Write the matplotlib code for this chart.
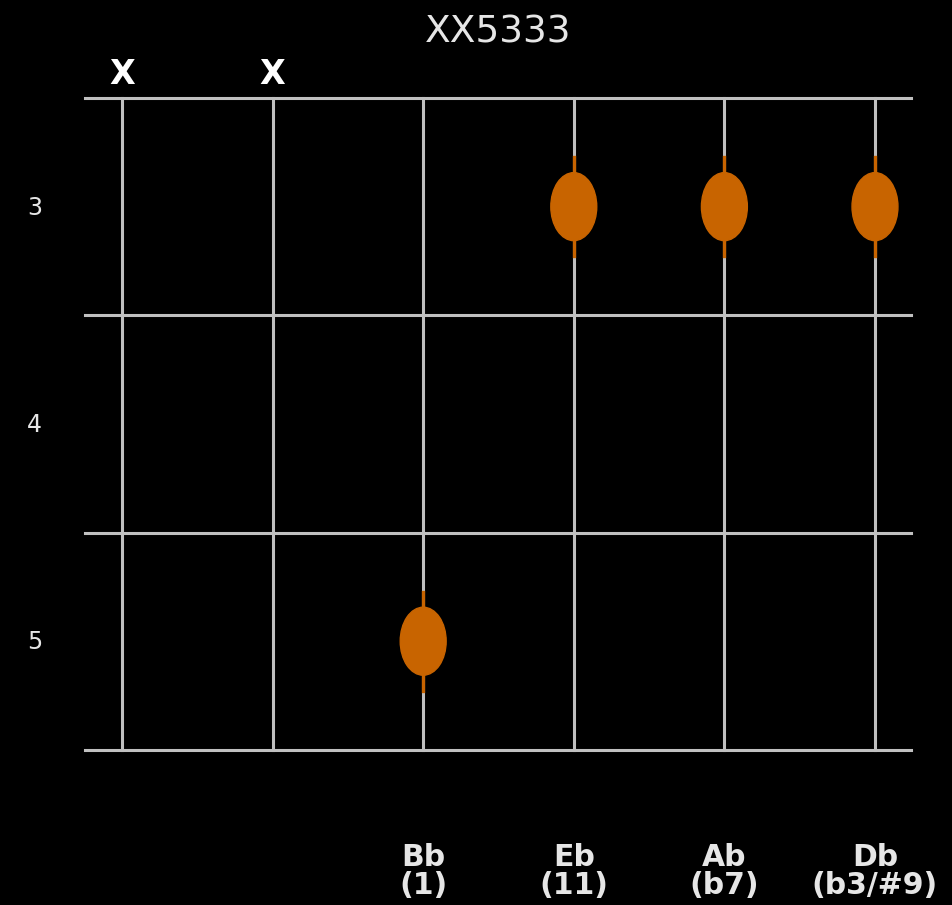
import matplotlib
matplotlib.use('Agg')
import matplotlib.pyplot as plt
from matplotlib.patches import Ellipse

# chord data
chord_name = "XX5333"
frets = [None, None, 5, 3, 3, 3]      # None = muted string
notes = ["", "", "Bb", "Eb", "Ab", "Db"]
intervals = ["", "", "(1)", "(11)", "(b7)", "(b3/#9)"]
fret_numbers = [3, 4, 5]

line_color = '#c0c0c0'
dot_color = '#c86400'
text_color = '#e6e6e6'

fig = plt.figure(figsize=(9.53, 9.05), dpi=100, facecolor='black')
ax = fig.add_axes([0, 0, 1, 1])
ax.set_facecolor('black')
ax.set_xlim(-0.810, 5.518)
ax.set_ylim(6.214, 2.049)
ax.axis('off')

n_strings = len(frets)
top = fret_numbers[0] - 0.5
bottom = fret_numbers[-1] + 0.5

# strings
for s in range(n_strings):
    ax.plot([s, s], [top, bottom], color=line_color, lw=2.2, zorder=1)

# frets
for f in range(len(fret_numbers) + 1):
    y = top + f
    ax.plot([-0.246, 5.24], [y, y], color=line_color, lw=2.2, zorder=1)

# fret numbers
for n in fret_numbers:
    ax.text(-0.58, n + 0.005, str(n), color=text_color, fontsize=17,
            ha='center', va='center')

# dots / muted strings
for s, f in enumerate(frets):
    if f is None:
        ax.text(s, 2.39, "X", color='white', fontsize=24, fontweight='bold',
                ha='center', va='center')
        continue
    ax.plot([s, s], [f - 0.228, f + 0.228], color=dot_color, lw=2.4, zorder=2)
    ax.add_patch(Ellipse((s, f), 0.305, 0.313, color=dot_color, zorder=3))

# note names and intervals
for s in range(n_strings):
    if notes[s]:
        ax.text(s, 6.06, notes[s] + "\n" + intervals[s], color=text_color,
                fontsize=21.5, fontweight='bold', ha='center', va='center',
                linespacing=0.97)

ax.text(2.5, 2.2, chord_name, color=text_color, fontsize=27,
        ha='center', va='center')

fig.savefig('out.png', dpi=100, facecolor='black')
plt.close(fig)
